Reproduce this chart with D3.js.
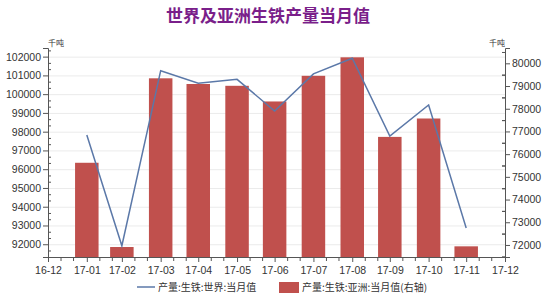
<!DOCTYPE html>
<meta charset="utf-8">
<style>
body { margin: 0; background: #fff; }
svg text { font-family: "Liberation Sans", Arial, "Noto Sans CJK SC", sans-serif; fill: #333; }
.cjk { font-family: "Noto Sans CJK SC", sans-serif; }
.axis path, .axis line { stroke: #555; }
.grid line { stroke: #ebebeb; }
.bar { fill: #c0504d; }
.line { fill: none; stroke: #5b78a8; stroke-width: 1.5px; }
</style>
<body>
<script src="https://d3js.org/d3.v7.min.js"></script>
<script>

// data
var months = ["17-01", "17-02", "17-03", "17-04", "17-05", "17-06",
              "17-07", "17-08", "17-09", "17-10", "17-11"];
var world = [97820, 91920, 101250, 100580, 100790, 99100,
             101080, 101915, 97770, 99420, 92870];
var asia = [75620, 71910, 79340, 79090, 79010, 78320,
            79450, 80265, 76760, 77570, 71940];
var xTickLabels = ["16-12", "17-01", "17-02", "17-03", "17-04", "17-05", "17-06",
                   "17-07", "17-08", "17-09", "17-10", "17-11", "17-12"];
var leftTicks = [92000, 93000, 94000, 95000, 96000, 97000, 98000, 99000, 100000, 101000, 102000];
var rightTicks = [72000, 73000, 74000, 75000, 76000, 77000, 78000, 79000, 80000];
var leftDomain = [91320, 102460];
var rightDomain = [71470, 80675];
var title = "世界及亚洲生铁产量当月值";
var unit = "千吨";
var legendLine = "产量:生铁:世界:当月值";
var legendBar = "产量:生铁:亚洲:当月值(右轴)";

// each value belongs to the last day of its month
function monthEnd(s) {
  var p = s.split("-");
  return new Date(2000 + +p[0], +p[1], 0);
}

var margin = {top: 48, right: 45, bottom: 43, left: 48},
    width = 550 - margin.left - margin.right,
    height = 300 - margin.top - margin.bottom;

var svg = d3.select("body").append("svg")
    .attr("width", 550)
    .attr("height", 300);

var g = svg.append("g")
    .attr("transform", "translate(" + margin.left + "," + margin.top + ")");

var tickDates = xTickLabels.map(monthEnd);
var x = d3.scaleTime()
    .domain([tickDates[0], tickDates[tickDates.length - 1]])
    .range([0, width]);
var yL = d3.scaleLinear().domain(leftDomain).range([height, 0]);
var yR = d3.scaleLinear().domain(rightDomain).range([height, 0]);

// grid lines
g.append("g")
    .attr("class", "grid")
  .selectAll("line")
  .data(leftTicks)
  .enter().append("line")
    .attr("x1", 0)
    .attr("x2", width)
    .attr("y1", function(d) { return yL(d) + 0.5; })
    .attr("y2", function(d) { return yL(d) + 0.5; });

// bars (right axis)
var barW = 23.5;
g.selectAll(".bar")
    .data(months)
  .enter().append("rect")
    .attr("class", "bar")
    .attr("x", function(d) { return x(monthEnd(d)) - barW / 2; })
    .attr("width", barW)
    .attr("y", function(d, i) { return yR(asia[i]); })
    .attr("height", function(d, i) { return height - yR(asia[i]); });

// line (left axis)
var line = d3.line()
    .x(function(d) { return x(monthEnd(d)); })
    .y(function(d, i) { return yL(world[i]); });
g.append("path")
    .datum(months)
    .attr("class", "line")
    .attr("d", line);

// minor ticks
var minorX = d3.timeDays(tickDates[0], tickDates[tickDates.length - 1])
    .filter(function(d) { return d.getDate() === 10 || d.getDate() === 20; });
var minorL = [];
leftTicks.forEach(function(t) { minorL.push(t + 1000 / 3, t - 1000 / 3); });
minorL = minorL.filter(function(v) { return v > leftDomain[0] && v < leftDomain[1]; });
var minorR = [];
rightTicks.forEach(function(t) { minorR.push(t + 500, t - 500); });
minorR = minorR.filter(function(v) { return v > rightDomain[0] && v < rightDomain[1]; });

g.append("g").attr("class", "axis")
    .attr("transform", "translate(0," + height + ")")
    .call(d3.axisBottom(x).tickValues(minorX).tickSize(4).tickFormat(""))
    .select(".domain").remove();
g.append("g").attr("class", "axis")
    .call(d3.axisRight(yL).tickValues(minorL).tickSize(3).tickFormat(""))
    .select(".domain").remove();
g.append("g").attr("class", "axis")
    .attr("transform", "translate(" + width + ",0)")
    .call(d3.axisLeft(yR).tickValues(minorR).tickSize(3).tickFormat(""))
    .select(".domain").remove();

// main axes
var xAxis = g.append("g").attr("class", "axis")
    .attr("transform", "translate(0," + height + ")")
    .call(d3.axisBottom(x).tickValues(tickDates).tickSizeOuter(0).tickSize(5)
      .tickFormat(function(d, i) { return xTickLabels[i]; }));
xAxis.selectAll("text").style("font-size", "10.5px").attr("dy", "0.9em");

var lAxis = g.append("g").attr("class", "axis")
    .call(d3.axisLeft(yL).tickValues(leftTicks).tickSizeOuter(0).tickSize(5).tickPadding(2)
      .tickFormat(d3.format("d")));
lAxis.selectAll("text").style("font-size", "10.5px");

var rAxis = g.append("g").attr("class", "axis")
    .attr("transform", "translate(" + width + ",0)")
    .call(d3.axisRight(yR).tickValues(rightTicks).tickSizeOuter(0).tickSize(5).tickPadding(2)
      .tickFormat(d3.format("d")));
rAxis.selectAll("text").style("font-size", "10.5px");

// unit labels
g.append("text").attr("class", "cjk")
    .attr("x", 0).attr("y", -2)
    .style("font-size", "8px")
    .text(unit);
g.append("text").attr("class", "cjk")
    .attr("x", width).attr("y", -2)
    .attr("text-anchor", "end")
    .style("font-size", "8px")
    .text(unit);

// title
svg.append("text").attr("class", "cjk")
    .attr("x", 268).attr("y", 22)
    .attr("text-anchor", "middle")
    .style("font-size", "17px")
    .style("font-weight", "bold")
    .style("fill", "#7a1f8a")
    .text(title);

// legend
var legend = svg.append("g").attr("transform", "translate(0,287)");
legend.append("line")
    .attr("class", "line")
    .attr("x1", 137).attr("x2", 155)
    .attr("y1", 0).attr("y2", 0);
legend.append("text").attr("class", "cjk")
    .attr("x", 158).attr("y", 4)
    .style("font-size", "10px")
    .text(legendLine);
legend.append("rect")
    .attr("class", "bar")
    .attr("x", 279).attr("y", -5)
    .attr("width", 20).attr("height", 11);
legend.append("text").attr("class", "cjk")
    .attr("x", 302).attr("y", 4)
    .style("font-size", "10px")
    .text(legendBar);

</script>
</body>
